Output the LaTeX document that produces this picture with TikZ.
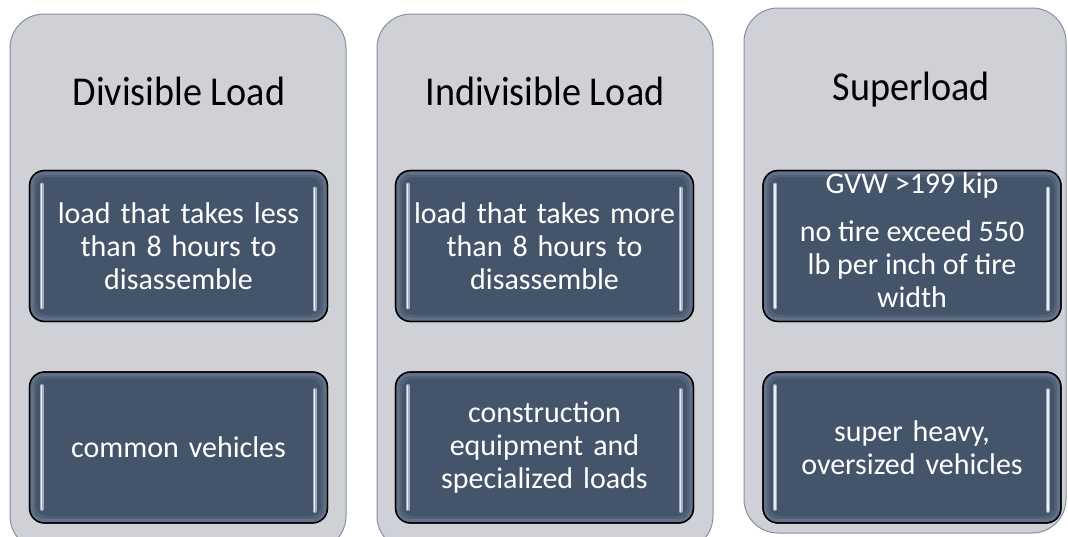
\documentclass[tikz,border=0pt]{standalone}
\usepackage{fontspec}
\setmainfont{Carlito}
\newfontfamily\titlefont[FakeStretch=0.93]{Carlito}
\usetikzlibrary{calc}
\definecolor{colfill}{HTML}{CFD1D6}
\definecolor{coldraw}{HTML}{8391A6}
\definecolor{boxblue}{HTML}{44546A}
\definecolor{boxedge}{HTML}{7A889E}
\definecolor{hilite}{HTML}{C9D4E3}
\tikzset{
  column/.style={fill=colfill,draw=coldraw,line width=1pt,rounded corners=34pt},
  title/.style={anchor=base,font=\titlefont\fontsize{41}{48}\selectfont,text=black},
  boxtext/.style={text=white,align=center,font=\fontsize{30}{33}\selectfont},
  innerbox/.style={draw=black,line width=1.3pt,fill=boxblue,rounded corners=15pt,
    minimum width=298pt,minimum height=151pt,inner sep=0pt,outer sep=0pt,
    boxtext,text width=296pt},
  glow/.style={draw=boxedge,rounded corners=12pt},
  hl/.style={line width=4pt,draw=hilite!70!boxblue,line cap=round},
  hlc/.style={line width=1.6pt,draw=hilite!40!white,line cap=round}
}
\newcommand{\bevel}[1]{%
  \draw[glow,line width=3pt,opacity=0.55] ($(#1.north west)+(2.5,2.5)$) rectangle ($(#1.south east)+(-2.5,-2.5)$);
  \draw[glow,line width=3pt,opacity=0.25] ($(#1.north west)+(5,5)$) rectangle ($(#1.south east)+(-5,-5)$);
  \draw[black,line width=1.3pt,rounded corners=15pt] (#1.north west) rectangle (#1.south east);
  \draw[hl] ($(#1.north west)+(12,14)$) -- ($(#1.south west)+(12,-14)$);
  \draw[hlc] ($(#1.north west)+(12,14)$) -- ($(#1.south west)+(12,-14)$);
  \draw[hl] ($(#1.north east)+(-13,18)$) -- ($(#1.south east)+(-13,-12)$);
  \draw[hlc] ($(#1.north east)+(-13,18)$) -- ($(#1.south east)+(-13,-12)$);
}
\begin{document}
\begin{tikzpicture}[x=1pt,y=-1pt]
\useasboundingbox (0,0) rectangle (1068,536);
\clip (0,0) rectangle (1068,536);
\fill[white] (0,0) rectangle (1068,536);
% columns
\draw[column] (10,14) rectangle (346,550);
\draw[column] (377,14) rectangle (713,550);
\draw[column] (744,8) rectangle (1066,533);
% titles
\node[title] (t1) at (179,105) {Divisible Load};
\node[title] (t2) at (545,105) {Indivisible Load};
\node[title] (t3) at (911,100) {Superload};
% inner boxes
\node[innerbox] (a1) at (178.5,246) {load that takes less\\than 8 hours to\\disassemble};
\node[innerbox] (a2) at (178.5,447.5) {common vehicles};
\node[innerbox] (b1) at (544.5,246) {load that takes more\\than 8 hours to\\disassemble};
\node[innerbox] (b2) at (544.5,447.5) {construction\\equipment and\\specialized loads};
\node[innerbox] (c1) at (912,246) {};
\node[innerbox] (c2) at (912,447.5) {super heavy,\\oversized vehicles};
\bevel{a1}\bevel{a2}\bevel{b1}\bevel{b2}\bevel{c1}\bevel{c2}
% superload text (overflows its box)
\node[boxtext,anchor=base] (c1a) at (912,193) {GVW >199 kip};
\node[boxtext,anchor=base] (c1b) at (912,307) {no tire exceed 550\\lb per inch of tire\\width};
\end{tikzpicture}
\end{document}
